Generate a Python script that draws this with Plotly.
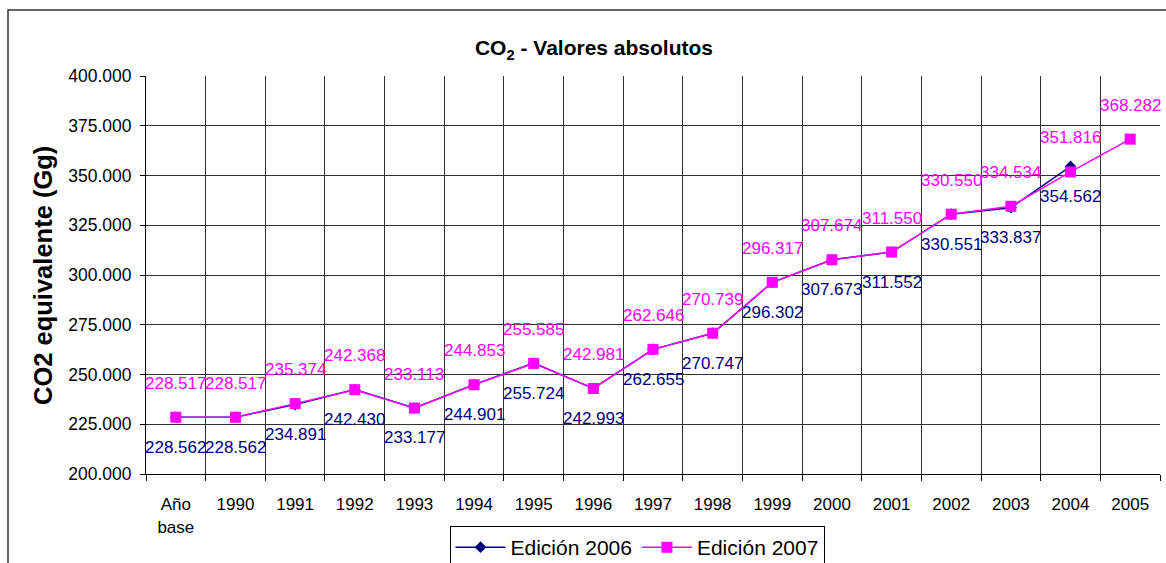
import plotly.graph_objects as go

# Emisiones de CO2 (Gg de CO2 equivalente) por año de inventario
categorias = ["Año base", "1990", "1991", "1992", "1993", "1994", "1995", "1996",
              "1997", "1998", "1999", "2000", "2001", "2002", "2003", "2004", "2005"]
etiquetas_x = ["Año<br>base"] + categorias[1:]

edicion_2006 = [228562, 228562, 234891, 242430, 233177, 244901, 255724, 242993,
                262655, 270747, 296302, 307673, 311552, 330551, 333837, 354562]
edicion_2007 = [228517, 228517, 235374, 242368, 233113, 244853, 255585, 242981,
                262646, 270739, 296317, 307674, 311550, 330550, 334534, 351816, 368282]

valores_y = [200000, 225000, 250000, 275000, 300000, 325000, 350000, 375000, 400000]

AZUL = "#000080"
ROSA = "#FF00FF"
FUENTE = "Liberation Sans, Arial, sans-serif"


def miles(v):
    return f"{v:,}".replace(",", ".")


fig = go.Figure()
fig.add_trace(go.Scatter(
    x=categorias[:len(edicion_2006)], y=edicion_2006, name="Edición 2006",
    mode="lines+markers",
    line=dict(color=AZUL, width=1.5),
    marker=dict(symbol="diamond", size=9, color=AZUL),
))
fig.add_trace(go.Scatter(
    x=categorias, y=edicion_2007, name="Edición 2007",
    mode="lines+markers",
    line=dict(color=ROSA, width=1.5),
    marker=dict(symbol="square", size=11, color=ROSA),
))

# Etiquetas de valor: edición 2006 debajo del punto, edición 2007 encima
anotaciones = []
for i, v in enumerate(edicion_2006):
    anotaciones.append(dict(x=i, y=v, text=miles(v), showarrow=False,
                            yshift=-30, xref="x", yref="y",
                            xanchor="center", yanchor="middle",
                            font=dict(family=FUENTE, size=17, color=AZUL)))
for i, v in enumerate(edicion_2007):
    anotaciones.append(dict(x=i, y=v, text=miles(v), showarrow=False,
                            yshift=34, xref="x", yref="y",
                            xanchor="center", yanchor="middle",
                            font=dict(family=FUENTE, size=17, color=ROSA)))

# Título del eje vertical
anotaciones.append(dict(text="<b>CO2 equivalente (Gg)</b>", textangle=-90,
                        xref="paper", yref="paper",
                        x=(43 - 146) / 1014, y=(474 - 276) / 398,
                        xanchor="center", yanchor="middle", showarrow=False,
                        font=dict(family=FUENTE, size=25.5, color="black")))

fig.update_layout(
    width=1166, height=563,
    margin=dict(l=146, r=6, t=76, b=89),
    paper_bgcolor="white", plot_bgcolor="white",
    font=dict(family=FUENTE, color="black"),
    title=dict(text="<b>CO<sub>2</sub> - Valores absolutos</b>",
               xref="container", x=594 / 1166, xanchor="center",
               yref="container", y=1 - 48 / 563, yanchor="middle",
               font=dict(family=FUENTE, size=21, color="black")),
    xaxis=dict(type="category", categoryorder="array", categoryarray=categorias,
               tickvals=categorias, ticktext=etiquetas_x,
               range=[-0.5, 16.5], tickson="boundaries",
               showgrid=True, gridcolor="#303030", gridwidth=1,
               ticks="outside", ticklen=6, tickcolor="black",
               showline=True, linecolor="black", linewidth=1,
               tickfont=dict(size=17), ticklabelstandoff=15, automargin=False),
    yaxis=dict(range=[200000, 400000], tickvals=valores_y,
               ticktext=[miles(v) for v in valores_y],
               showgrid=True, gridcolor="#303030", gridwidth=1,
               ticks="outside", ticklen=5, tickcolor="black",
               showline=True, linecolor="black", linewidth=1,
               tickfont=dict(size=17.5), ticklabelstandoff=5,
               zeroline=False, automargin=False),
    legend=dict(orientation="h", xref="paper", yref="container",
                x=(637 - 146) / 1014, xanchor="center",
                y=1 - 526 / 563, yanchor="top",
                bgcolor="white", bordercolor="black", borderwidth=1,
                font=dict(size=21), itemwidth=50, tracegroupgap=0),
    annotations=anotaciones,
    shapes=[dict(type="rect", xref="paper", yref="paper",
                 x0=(8 - 146) / 1014, x1=1.02,
                 y0=-0.3, y1=(474 - 10) / 398,
                 line=dict(color="#333333", width=1.5), fillcolor="rgba(0,0,0,0)",
                 layer="below")],
)

fig.write_html("out.html")
